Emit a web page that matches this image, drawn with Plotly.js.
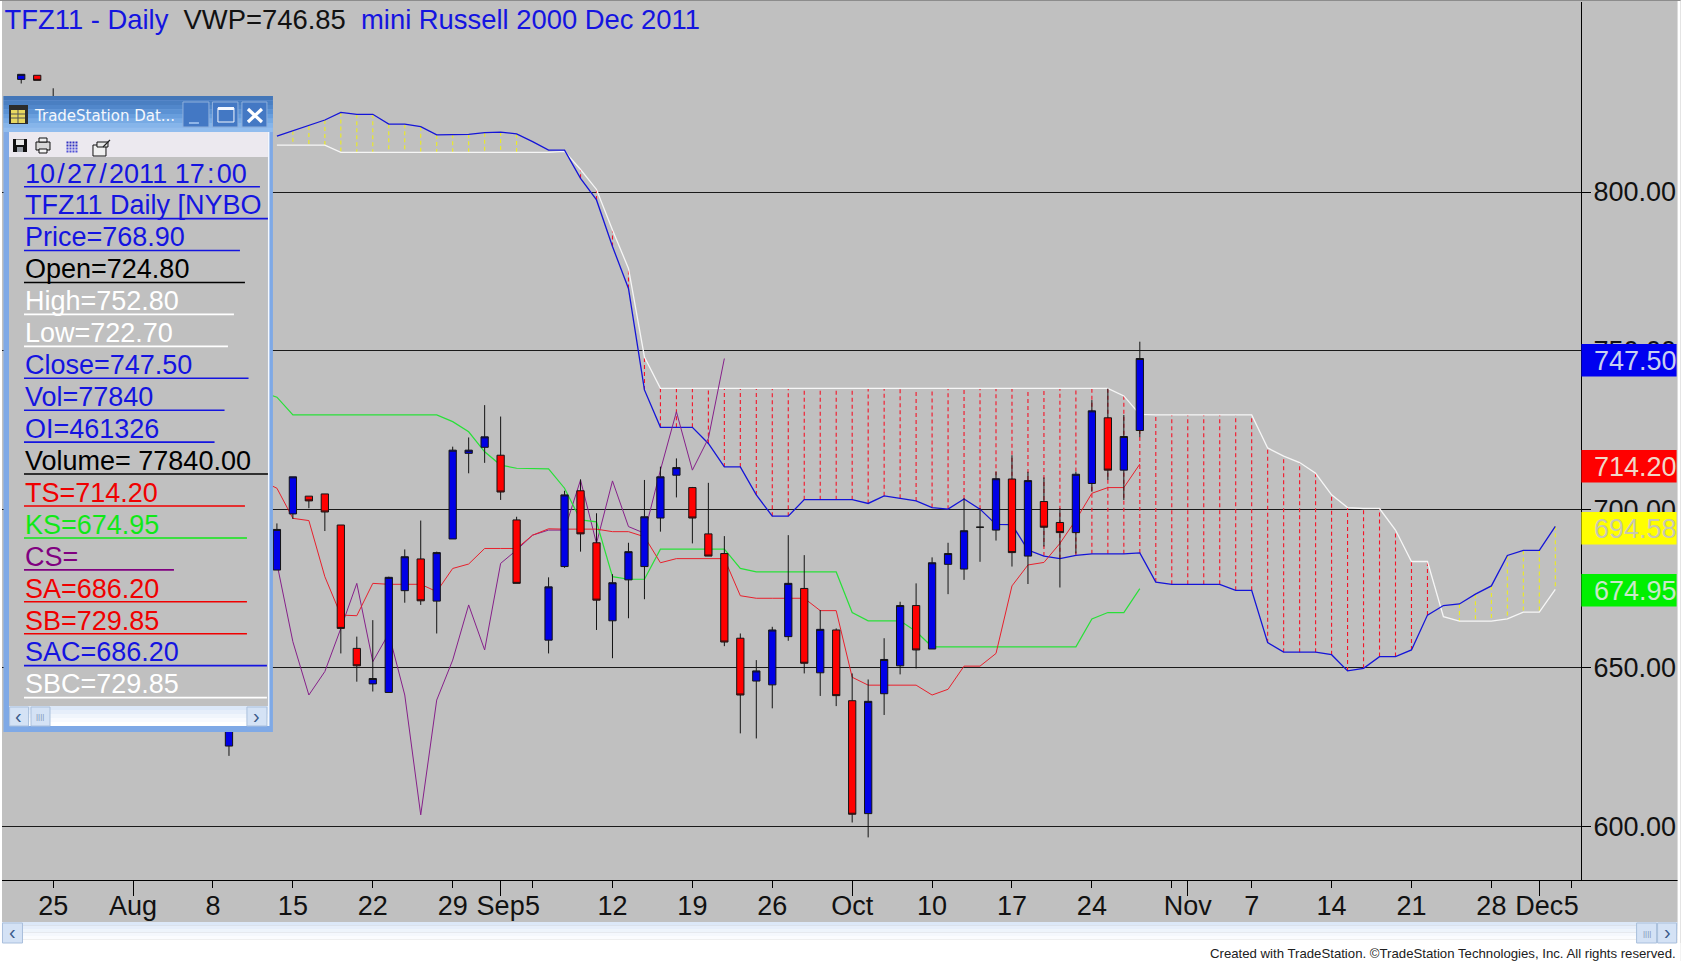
<!DOCTYPE html>
<html><head><meta charset="utf-8">
<script src="https://cdn.plot.ly/plotly-3.0.1.min.js"></script>
<style>html,body{margin:0;padding:0;background:#fff;overflow:hidden}#c{width:1681px;height:961px}</style>
</head><body><div id="c"></div>
<script>
// ---------- candle data (x = trading-calendar slot, 0 = 25 Jul) ----------
const barIdx = [-2,-1,0,11,14,15,16,17,18,19,20,21,22,23,24,25,26,27,28,29,31,32,33,34,35,36,37,38,39,40,41,42,43,44,45,46,47,48,49,50,51,52,53,54,55,56,57,58,59,60,61,62,63,64,65,66,67,68];
const opens  = [835.5,836.8,815,625.3,680.8,698.5,704.1,704.8,695,656.1,644.9,642.2,674.3,684.3,671,690.6,717.6,719.5,717,696.6,658.7,681.9,705.8,689.4,664.8,677.7,681.9,697.2,710.7,706.8,692.2,686,659.3,645.8,644.6,659.8,675,648.4,661.9,639.6,604,641.8,650.6,669.6,655.9,682.6,681.1,694.3,693.4,709.5,685.2,702.4,695.8,692.6,708.1,728.8,712.3,724.8];
const highs  = [837.1,836.8,832.7,645,695.5,710.2,704.1,704.8,695,659.8,665,678.7,687.3,696.4,686.6,719.7,722.6,732.8,729.2,697.6,678.5,705.8,709.4,698.7,679.5,689.4,709.2,713.4,716,707,708.3,691.5,660.8,652.4,662.9,691.8,685.5,668.2,662.4,648.2,646.3,659.3,670.8,676.6,684.8,689.4,703.4,700.3,711.8,717,711.8,710,700.3,711.8,734.4,738,729.7,752.8];
const lows   = [834.2,835.2,810,622.2,680.8,696.9,700.3,693.1,654.5,645.6,642.5,642.2,670.5,669.8,660.8,690.6,711.3,714.6,702.9,676.6,654.5,681.5,686.6,661.9,653,665.6,671.6,692.9,703.7,689.2,685.2,656.8,629.3,627.7,637.2,658.5,648.2,641.1,637.9,601.2,596.5,635.1,647.9,649.8,655.9,673.2,677.7,683.4,690.1,681.9,676.4,688.2,675.3,686,705.5,709.2,702.9,722.7];
const closes = [837.1,835.2,825,640,693.6,710.2,702.6,699.1,662.4,650.6,646.6,678.5,685,671.1,686.3,718.6,718.6,722.8,705.4,676.6,675.5,704.5,692.2,671.3,676.8,686.6,697.6,710.2,713.1,697.2,685.2,658.1,641.4,649,661.9,676.6,651.4,662.1,641.2,603.8,639.4,652.6,669.6,655.6,683.1,686,693.2,694.3,709.6,686.3,709,694.3,692.6,711,731,712.3,722.9,747.5];

// ---------- ichimoku lines ----------
const cloudIdx = [14,15,16,17,18,19,20,21,22,23,24,25,26,27,28,29,30,31,32,33,34,35,36,37,38,39,40,41,42,43,44,45,46,47,48,49,50,51,52,53,54,55,56,57,58,59,60,61,62,63,64,65,66,67,68,69,70,71,72,73,74,75,76,77,78,79,80,81,82,83,84,85,86,87,88,89,90,91,92,93,94];
const sacValues = [817.6,819.3,820.8,822.7,825.1,824.5,824.5,821.4,821.4,820.6,818,818.2,818.2,818.7,818.9,818.3,815.9,813.2,813.2,804.3,797.5,782.8,769.6,737.6,725.8,725.8,725.8,720.7,713.3,713.3,704.5,697.8,697.8,703,703,703,703,701.8,704.2,703.4,702.6,700.5,700,703.2,700,695.2,695.1,687.1,685.2,684.4,685.4,685.9,685.9,685.9,686.2,677,676.3,676.3,676.3,676.3,674.4,674.4,657.9,654.9,654.9,654.9,654.1,649,649.8,653.5,653.5,655.6,666.6,669.6,670.1,673.2,675.8,685.4,687,687,694.58];
const sbcValues = [814.8,814.8,814.8,814.8,812.5,812.5,812.5,812.5,812.5,812.5,812.5,812.5,812.5,812.5,812.5,812.5,812.5,812.5,812.8,807.1,800.8,788,775.9,748,738.1,738.1,738.1,738.1,738.1,738.1,738.1,738.1,738.1,738.1,738.1,738.1,738.1,738.1,738.1,738.1,738.1,738.1,738.1,738.1,738.1,738.1,738.1,738.1,738.1,738.1,738.1,738.1,738.1,735.7,729.85,729.7,729.7,729.7,729.7,729.7,729.7,729.7,719.3,716.7,714.7,711.3,704.5,700.5,700.2,700.2,693.4,683.5,683.5,666.1,664.7,664.7,664.7,665.4,667.5,667.5,674.7];
const yellowSlots = [15,16,17,18,19,20,21,22,23,24,25,26,27,28,29,88,89,90,91,92,93,94];
const redSlots = [33,34,35,36,37,38,39,40,41,42,43,44,45,46,47,48,49,50,51,52,53,54,55,56,57,58,59,60,61,62,63,64,65,66,67,68,69,70,71,72,73,74,75,76,77,78,79,80,81,82,83,84,85,86];

const lineIdx = [13,14,15,16,17,18,19,20,21,22,23,24,25,26,27,28,29,30,31,32,33,34,35,36,37,38,39,40,41,42,43,44,45,46,47,48,49,50,51,52,53,54,55,56,57,58,59,60,61,62,63,64,65,66,67,68];
const tsValues = [709,706.6,697.1,696.4,678.7,666.6,666.4,676.6,676.3,676.3,676.3,674,681.3,682.7,687.6,687.6,687.6,691.8,693.8,693.7,693.7,693.7,692.9,692.9,691.3,683.1,684.4,684.4,684.4,684.4,672.7,671.9,671.9,671.9,671.9,668,668,647,644.5,644.5,644.5,644.5,641.4,643.2,650.5,650.5,654.5,675.8,682.4,683.2,689.2,696.6,705,706.8,706.8,714.2];
const ksValues = [737,735.3,729.7,729.7,729.7,729.7,729.7,729.7,729.7,729.7,729.7,729.7,727.6,724.4,718.1,713.9,712.9,712.9,712.7,706.6,696.6,696,678.7,677.9,677.9,687.4,687.4,687.4,687.4,687.4,681.3,680.2,680.2,680.2,680.2,680.2,680.2,667.4,664.8,664.8,664.8,661.4,656.6,656.6,656.6,656.6,656.6,656.6,656.6,656.6,656.6,656.6,665.4,667.4,667.4,674.95];
const csIdx = [14,15,16,17,18,19,20,21,22,23,24,25,26,27,28,29,30,31,32,33,34,35,36,37,38,39,40,41,42];
const csValues = [682.9,658.2,641.4,648.8,662.4,676.6,651.9,660.8,641.4,603.6,639.8,652.4,669.8,655.6,682.9,687.1,691.8,693.4,693.4,709.2,689.2,708.9,694.5,692.4,712.3,730.7,712.3,722.3,747.5];

// ---------- axis labels ----------
const weekTicks  = [0,10,15,20,25,30,35,40,45,55,60,65,70,75,80,85,90,95];
const weekLabels = ['25','8','15','22','29','5','12','19','26','10','17','24','','7','14','21','28','5'];
const monthTicks  = [5,28,50,71,93];
const monthLabels = ['Aug','Sep','Oct','Nov','Dec'];
const priceTicks = [600,650,700,750,800];

// ---------- readouts ----------
const panelText = ['10\u200A/\u200A27\u200A/\u200A2011 17\u200A:\u200A00','TFZ11 Daily [NYBO','Price=768.90','Open=724.80','High=752.80','Low=722.70','Close=747.50','Vol=77840','OI=461326','Volume= 77840.00','TS=714.20','KS=674.95','CS=','SA=686.20','SB=729.85','SAC=686.20','SBC=729.85'];
const panelColor = ['#1414e0','#1414e0','#1414e0','#000000','#ffffff','#ffffff','#1414e0','#1414e0','#1414e0','#000000','#f00000','#10e818','#800080','#f00000','#f00000','#1414e0','#ffffff'];
const panelRuleEnd = [260,268,240,245,234,228,248.6,224.6,214.6,268,245,247,174,247,247,267,267];
const tagText = ['747.50','714.20','694.58','674.95'];
const tagFill = ['#0000f0','#ff0000','#ffff00','#00f000'];
const tagInk  = ['#c8d0ee','#f0d8c8','#c8c8b0','#c8e8c8'];

// ---------- frame ----------
const W=1681,H=961,L=2,R=1581.4,T=2,B=880;
const FONT='"Liberation Sans", Arial, sans-serif';
const px=v=>(v-L)/(R-L), py=v=>1-(v-T)/(B-T);
const xRange=[(L-53.2)/15.984,(R-53.2)/15.984];
const yRange=[600+(826.3-B)/3.1715,600+(826.3-T)/3.1715];
const shapes=[], annotations=[];
function rect(x0,y0,x1,y1,fill,line){shapes.push({type:'rect',xref:'paper',yref:'paper',layer:'above',x0:px(x0),x1:px(x1),y0:py(y0),y1:py(y1),fillcolor:fill,line:line?{color:line,width:1}:{width:0}});}
function seg(x0,y0,x1,y1,color,width){shapes.push({type:'line',xref:'paper',yref:'paper',layer:'above',x0:px(x0),x1:px(x1),y0:py(y0),y1:py(y1),line:{color:color,width:width||1}});}
function note(x,y,text,size,color,opts){annotations.push(Object.assign({xref:'paper',yref:'paper',x:px(x),y:py(y),text:text,showarrow:false,xanchor:'left',yanchor:'middle',borderpad:0,font:{family:FONT,size:size,color:color}},opts||{}));}
function gradient(x0,y0,x1,y1,c){const n=c.length;for(let k=0;k<n;k++)rect(x0,y0+(y1-y0)*k/n,x1,y0+(y1-y0)*(k+1)/n,c[k]);}

// outer strips
rect(0,0,2,961,'#ffffff');
rect(1678,0,1681,961,'#ffffff');
seg(0,0.5,1681,0.5,'#8c8c8c',1);
seg(1581,880.5,1678,880.5,'#000',1);
// price tags
tagText.forEach((t,k)=>{const ys=[344,450,512,574][k];rect(1581.8,ys,1677,ys+32.5,tagFill[k]);note(1593,ys+17,t,27,tagInk[k]);});
// bottom scrollbar & credit
gradient(2,922,1678,943,['#dce8f8','#e6eefa','#eef4fb','#f5f8fd','#fbfcfe','#ffffff']);
rect(0,943,1681,961,'#ffffff');
rect(2.5,923,22.5,943,'#d4e2f5','#a9bfdc');
rect(1637,923,1657,943,'#d4e2f5','#a9bfdc');
rect(1658,923,1677,943,'#d4e2f5','#a9bfdc');
note(12.5,932,'‹',20,'#3a5a8a',{xanchor:'center'});
note(1667.5,932,'›',20,'#3a5a8a',{xanchor:'center'});
note(1647,933,'||||',8,'#7f95b5',{xanchor:'center'});
note(1677,953,'Created with TradeStation. ©TradeStation Technologies, Inc. All rights reserved.',13.2,'#202020',{xanchor:'right'});

// popup window
rect(3.5,96,273,732,'#7fa9e6');
gradient(3.5,96,273,132,['#4376b8','#4a7fc2','#5187cb','#5b92d4','#689edd','#77aae4','#86b5ea','#92bdee']);
rect(9,132,268,726,'#c0c0c0');
rect(9,132,268,157,'#ece9ef');
rect(268,132,269.5,726,'#f4f8fe');
// title bar icon & caption
rect(9,105,28,124,'#2c2c2c');
rect(11,110,25,123,'#e8d860');
seg(11,114,25,114,'#555',1);seg(11,118,25,118,'#555',1);seg(18,110,18,123,'#555',1);
note(33.5,115.5,'TradeStation Dat...',15,'#f4f7fc',{font:{family:'"DejaVu Sans", sans-serif',size:15,color:'#f4f7fc'}});
// buttons
[[183,209],[212.5,238],[242,267]].forEach(b=>rect(b[0],102,b[1],127,'#4378c4','#8fb0dc'));
rect(189,122,199,124,'#8fb5e8');
rect(218,108,234,122,'rgba(0,0,0,0)','#f4f8ff');seg(218,108.5,234,108.5,'#f4f8ff',3);
seg(248,109,262,122,'#ffffff',3.2);seg(262,109,248,122,'#ffffff',3.2);
// toolbar icons
rect(13,139,27,152,'#101010');rect(16,139.5,24,145,'#e8e8e8');rect(17,147,23,152,'#9aa0a8');
rect(36,142,50,150,'#d8d8d8','#111');rect(39,138,47,142,'#f0f0f0','#111');rect(39,149,47,153,'#f4f4f4','#111');
for(let a=0;a<4;a++)for(let b=0;b<4;b++)rect(66.5+a*3,141.5+b*3,68.5+a*3,143.5+b*3,b<2?'#3030c0':'#5050d8');
rect(93,145,106,156,'#f0f0f0','#111');rect(97,142,108,147,'#e8e8e8','#111');seg(103,147,110,140,'#222',1.2);
// readout rows
panelText.forEach((t,k)=>{
  const rule=186.7+31.93*k;
  note(24.5,rule-13.2,t,27,panelColor[k]);
  seg(24,rule,panelRuleEnd[k],rule,panelColor[k],1.6);
});
// popup scroll bar
gradient(9,706,268,726,['#dce8f8','#e6eefa','#f0f5fc','#f8fafe','#ffffff']);
rect(9.6,707,28.6,726,'#d4e2f5','#a9bfdc');
rect(31,707,50,726,'#d4e2f5','#a9bfdc');
rect(247,707,267,726,'#d4e2f5','#a9bfdc');
note(19,715.5,'‹',20,'#3a5a8a',{xanchor:'center'});
note(257,715.5,'›',20,'#3a5a8a',{xanchor:'center'});
note(40.5,716.5,'||||',8,'#7f95b5',{xanchor:'center'});

function hatch(slots){const x=[],y=[];slots.forEach(s=>{const k=cloudIdx.indexOf(s);x.push(s,s,null);y.push(sacValues[k],sbcValues[k],null);});return {x,y};}
const hy=hatch(yellowSlots), hr=hatch(redSlots);

const traces=[
 {type:'scatter',mode:'lines',x:hy.x,y:hy.y,line:{color:'#ecec20',width:1.1,dash:'4px,3px'},hoverinfo:'skip',connectgaps:false},
 {type:'scatter',mode:'lines',x:hr.x,y:hr.y,line:{color:'#f41428',width:1.1,dash:'4px,3px'},hoverinfo:'skip',connectgaps:false},
 {type:'scatter',mode:'lines',x:cloudIdx,y:sbcValues,line:{color:'#f6f6f6',width:1.3},name:'SBC'},
 {type:'scatter',mode:'lines',x:cloudIdx,y:sacValues,line:{color:'#1414d8',width:1.3},name:'SAC'},
 {type:'scatter',mode:'lines',x:csIdx,y:csValues,line:{color:'#86208a',width:1},name:'CS'},
 {type:'scatter',mode:'lines',x:lineIdx,y:ksValues,line:{color:'#28e038',width:1.2},name:'KS'},
 {type:'scatter',mode:'lines',x:lineIdx,y:tsValues,line:{color:'#e8202c',width:1},name:'TS'},
 {type:'candlestick',x:barIdx,open:opens,high:highs,low:lows,close:closes,xaxis:'x2',yaxis:'y2',name:'TFZ11',
  increasing:{fillcolor:'#0000e6',line:{color:'#141414',width:1}},
  decreasing:{fillcolor:'#ff0000',line:{color:'#141414',width:1}},whiskerwidth:0}
];

const layout={
 width:W,height:H,autosize:false,showlegend:false,
 margin:{l:L,r:W-R,t:T,b:H-B,pad:0,autoexpand:false},
 paper_bgcolor:'#c0c0c0',plot_bgcolor:'#c0c0c0',
 boxgap:0.35,
 title:{text:'<span style="color:#1414e0">TFZ11 - Daily</span>&nbsp;&nbsp;<span style="color:#111">VWP=746.85</span>&nbsp;&nbsp;<span style="color:#1414e0">mini Russell 2000 Dec 2011</span>',
   font:{family:FONT,size:27.4,color:'#1414e0'},xref:'container',yref:'container',x:4.5/W,xanchor:'left',y:1-19/H,yanchor:'middle',pad:{t:0,b:0,l:0,r:0}},
 xaxis:{range:xRange,tickmode:'array',tickvals:weekTicks,ticktext:weekLabels,ticks:'outside',ticklen:7,tickwidth:1,tickcolor:'#000',
   showgrid:false,zeroline:false,showline:true,linecolor:'#000',linewidth:1,tickfont:{family:FONT,size:27,color:'#111'},ticklabelstandoff:-5,tickangle:0,automargin:false},
 xaxis2:{range:xRange,overlaying:'x',anchor:'y',side:'bottom',tickmode:'array',tickvals:monthTicks,ticktext:monthLabels,ticks:'outside',ticklen:15,tickwidth:1,tickcolor:'#000',
   showgrid:false,zeroline:false,showline:false,tickfont:{family:FONT,size:27,color:'#111'},ticklabelstandoff:-13,tickangle:0,rangeslider:{visible:false},automargin:false},
 yaxis:{range:yRange,side:'right',tickmode:'array',tickvals:priceTicks,tickformat:'.2f',ticks:'outside',ticklen:9,tickwidth:1,tickcolor:'#000',ticklabelstandoff:-3,
   showgrid:true,gridcolor:'#1a1a1a',gridwidth:1,zeroline:false,showline:true,linecolor:'#000',linewidth:1,tickfont:{family:FONT,size:27,color:'#111'},automargin:false},
 yaxis2:{range:yRange,overlaying:'y',anchor:'x',side:'right',showticklabels:false,ticks:'',showgrid:false,zeroline:false,showline:false,automargin:false},
 shapes:shapes,annotations:annotations,hovermode:false
};
Plotly.newPlot('c',traces,layout,{displayModeBar:false,staticPlot:true});
</script></body></html>
